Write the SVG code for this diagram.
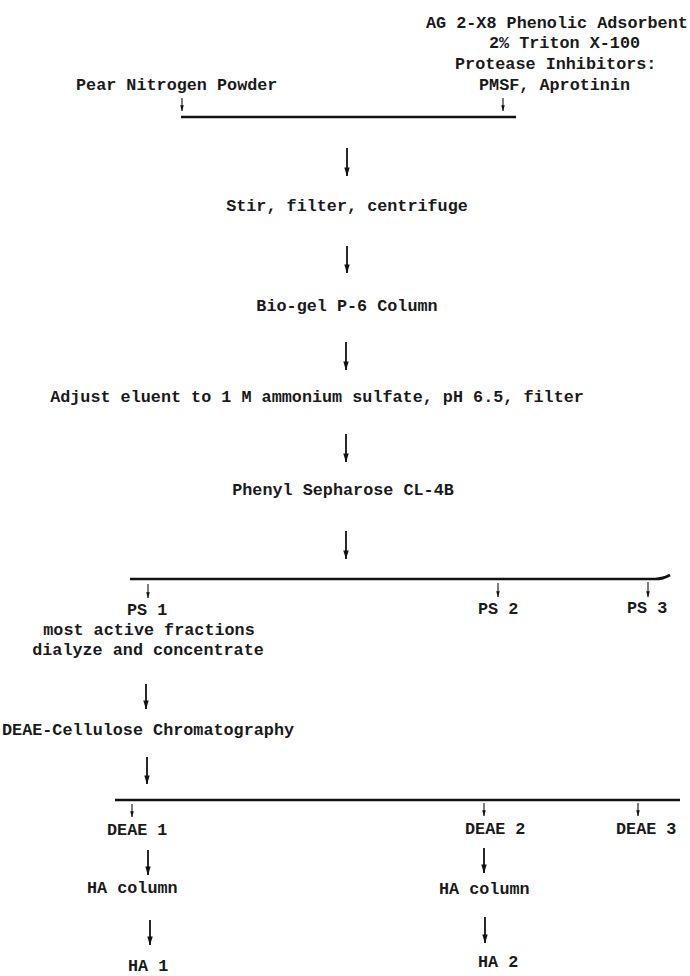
<svg xmlns="http://www.w3.org/2000/svg" width="690" height="976" viewBox="0 0 690 976">
<defs>
<marker id="big" viewBox="0 0 10 6" refX="9.5" refY="3" markerWidth="9" markerHeight="6" markerUnits="userSpaceOnUse" orient="auto">
<path d="M0,0 L10,3 L0,6 Z" fill="#111"/>
</marker>
<marker id="small" viewBox="0 0 10 6" refX="9.5" refY="3" markerWidth="6" markerHeight="4.5" markerUnits="userSpaceOnUse" orient="auto">
<path d="M0,0 L10,3 L0,6 Z" fill="#111"/>
</marker>
</defs>
<style>
text{font-family:"Liberation Mono","Courier New",monospace;font-size:16.8px;font-weight:bold;fill:#1a1a1a;}
.big{stroke:#111;stroke-width:1.8;fill:none;marker-end:url(#big);}
.small{stroke:#111;stroke-width:1.1;fill:none;marker-end:url(#small);}
.bar{stroke:#111;stroke-width:2.6;fill:none;}
</style>
<rect width="690" height="976" fill="#fff"/>
<g id="reagents">
<text x="426" y="28">AG 2-X8 Phenolic Adsorbent</text>
<text x="489" y="48">2% Triton X-100</text>
<text x="455" y="69">Protease Inhibitors:</text>
<text x="479" y="90">PMSF, Aprotinin</text>
</g>
<g id="pear"><text x="76" y="90">Pear Nitrogen Powder</text></g>
<g id="stir"><text x="347" y="211" text-anchor="middle">Stir, filter, centrifuge</text></g>
<g id="biogel"><text x="347" y="311" text-anchor="middle">Bio-gel P-6 Column</text></g>
<g id="adjust"><text x="317" y="402" text-anchor="middle">Adjust eluent to 1 M ammonium sulfate, pH 6.5, filter</text></g>
<g id="phenyl"><text x="343" y="495" text-anchor="middle">Phenyl Sepharose CL-4B</text></g>
<g id="ps1"><text x="127" y="615">PS 1</text>
<text x="149" y="635" text-anchor="middle">most active fractions</text>
<text x="148" y="655" text-anchor="middle">dialyze and concentrate</text></g>
<g id="ps2"><text x="478" y="614">PS 2</text></g>
<g id="ps3"><text x="627" y="613">PS 3</text></g>
<g id="deae"><text x="2" y="735">DEAE-Cellulose Chromatography</text></g>
<g id="deae1"><text x="107" y="835">DEAE 1</text></g>
<g id="deae2"><text x="465" y="834">DEAE 2</text></g>
<g id="deae3"><text x="616" y="834">DEAE 3</text></g>
<g id="ha-col1"><text x="87" y="893">HA column</text></g>
<g id="ha-col2"><text x="439" y="894">HA column</text></g>
<g id="ha1"><text x="128" y="971">HA 1</text></g>
<g id="ha2"><text x="478" y="967">HA 2</text></g>
<g id="connectors">
<path class="small" d="M182,98 V111"/>
<path class="small" d="M503,98 V111"/>
<path class="bar" d="M181,117 H516"/>
<path class="big" d="M347,148 V176"/>
<path class="big" d="M347,246 V273"/>
<path class="big" d="M346,342 V370"/>
<path class="big" d="M346,434 V462"/>
<path class="big" d="M346,531 V559"/>
<path class="bar" d="M130,579 H655 Q663,579 670,575"/>
<path class="small" d="M148,584 V598"/>
<path class="small" d="M498,583 V597"/>
<path class="small" d="M648,582 V597"/>
<path class="big" d="M146,684 V709"/>
<path class="big" d="M147,757 V784"/>
<path class="bar" d="M115,800 H680"/>
<path class="small" d="M132,804 V817"/>
<path class="small" d="M484,803 V816"/>
<path class="small" d="M638,803 V816"/>
<path class="big" d="M148,850 V875"/>
<path class="big" d="M484,848 V873"/>
<path class="big" d="M150,920 V945"/>
<path class="big" d="M485,917 V943"/>
</g>
</svg>
